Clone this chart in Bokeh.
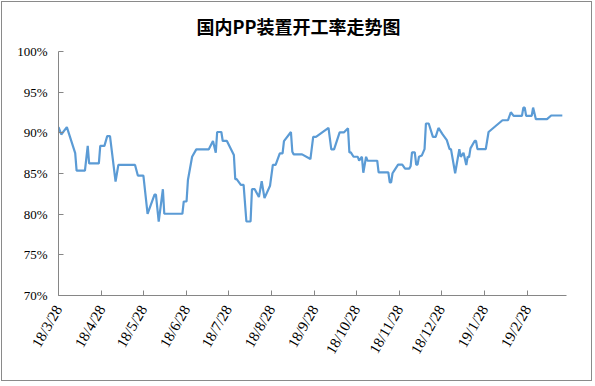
import pandas as pd
from bokeh.plotting import figure
from bokeh.models import ColumnDataSource, FixedTicker, Range1d, PrintfTickFormatter
from bokeh.embed import file_html
from bokeh.resources import INLINE

# ---- data ----
dates = [
    "2018-03-28", "2018-03-30", "2018-04-03", "2018-04-09", "2018-04-10", "2018-04-16",
    "2018-04-18", "2018-04-19", "2018-04-26", "2018-04-27", "2018-04-30", "2018-05-02",
    "2018-05-04", "2018-05-08", "2018-05-10", "2018-05-22", "2018-05-24", "2018-05-28",
    "2018-05-31", "2018-06-05", "2018-06-06", "2018-06-08", "2018-06-11", "2018-06-12",
    "2018-06-25", "2018-06-26", "2018-06-28", "2018-06-29", "2018-07-02", "2018-07-05",
    "2018-07-14", "2018-07-17", "2018-07-19", "2018-07-20", "2018-07-23", "2018-07-24",
    "2018-07-27", "2018-08-01", "2018-08-02", "2018-08-03", "2018-08-06", "2018-08-08",
    "2018-08-10", "2018-08-13", "2018-08-14", "2018-08-16", "2018-08-19", "2018-08-21",
    "2018-08-23", "2018-08-27", "2018-08-29", "2018-08-31", "2018-09-03", "2018-09-05",
    "2018-09-06", "2018-09-11", "2018-09-12", "2018-09-13", "2018-09-19", "2018-09-25",
    "2018-09-27", "2018-09-29", "2018-10-08", "2018-10-10", "2018-10-12", "2018-10-16",
    "2018-10-19", "2018-10-22", "2018-10-23", "2018-10-24", "2018-10-26", "2018-10-29",
    "2018-10-30", "2018-11-01", "2018-11-02", "2018-11-04", "2018-11-05", "2018-11-12",
    "2018-11-13", "2018-11-20", "2018-11-21", "2018-11-22", "2018-11-23", "2018-11-24",
    "2018-11-27", "2018-11-30", "2018-12-02", "2018-12-05", "2018-12-06", "2018-12-07",
    "2018-12-09", "2018-12-10", "2018-12-11", "2018-12-12", "2018-12-14", "2018-12-16",
    "2018-12-17", "2018-12-19", "2018-12-22", "2018-12-24", "2018-12-26", "2018-12-29",
    "2019-01-01", "2019-01-03", "2019-01-04", "2019-01-07", "2019-01-10", "2019-01-11",
    "2019-01-13", "2019-01-15", "2019-01-16", "2019-01-17", "2019-01-18", "2019-01-21",
    "2019-01-22", "2019-01-23", "2019-01-29", "2019-01-31", "2019-02-10", "2019-02-14",
    "2019-02-16", "2019-02-18", "2019-02-24", "2019-02-25", "2019-02-26", "2019-02-27",
    "2019-03-03", "2019-03-04", "2019-03-06", "2019-03-14", "2019-03-17", "2019-03-25",
]
rates = [
    90.7, 89.8, 90.7, 87.5, 85.35, 85.35,
    88.4, 86.25, 86.25, 88.4, 88.4, 89.6,
    89.6, 84.0, 86.05, 86.05, 84.75, 84.75,
    80.05, 82.4, 82.4, 79.07, 83.07, 80.05,
    80.05, 81.56, 81.56, 84.2, 87.06, 87.97,
    87.97, 89.0, 87.55, 90.1, 90.1, 89.0,
    89.0, 87.27, 84.3, 84.3, 83.6, 83.6,
    79.1, 79.1, 83.07, 83.07, 82.1, 84.05,
    81.97, 83.5, 86.05, 86.05, 87.48, 87.48,
    88.98, 90.1, 87.67, 87.35, 87.35, 86.78,
    89.5, 89.5, 90.6, 87.97, 87.97, 90.05,
    90.05, 90.57, 87.6, 87.6, 87.06, 87.06,
    86.57, 87.06, 85.1, 87.06, 86.57, 86.57,
    85.15, 85.15, 83.9, 83.9, 85.03, 85.3,
    86.09, 86.09, 85.6, 85.6, 85.9, 87.6,
    87.6, 86.09, 86.09, 87.06, 87.2, 88.0,
    91.15, 91.15, 89.5, 89.5, 90.6, 89.8,
    89.1, 88.0, 88.0, 85.03, 88.0, 87.06,
    87.55, 86.05, 87.06, 87.0, 88.09, 89.0,
    89.0, 88.0, 88.0, 90.1, 91.55, 91.55,
    92.53, 92.08, 92.08, 93.1, 93.1, 92.08,
    92.08, 93.1, 91.68, 91.68, 92.13, 92.13,
]
tick_dates = [
    "2018-03-28", "2018-04-28", "2018-05-28", "2018-06-28", "2018-07-28", "2018-08-28",
    "2018-09-28", "2018-10-28", "2018-11-28", "2018-12-28", "2019-01-28", "2019-02-28",
]
tick_labels = [
    "18/3/28", "18/4/28", "18/5/28", "18/6/28", "18/7/28", "18/8/28",
    "18/9/28", "18/10/28", "18/11/28", "18/12/28", "19/1/28", "19/2/28",
]
y_ticks = [70, 75, 80, 85, 90, 95, 100]
title_text = "国内PP装置开工率走势图"

# ---- build ----
src = ColumnDataSource(data=dict(date=pd.to_datetime(dates), rate=rates))
tick_ms = [float(pd.Timestamp(d).value // 10**6) for d in tick_dates]

p = figure(
    width=591, height=380,
    x_axis_type="datetime",
    x_range=Range1d(pd.Timestamp("2018-03-28"), pd.Timestamp("2019-03-28")),
    y_range=Range1d(70, 100),
    output_backend="svg", toolbar_location=None,
    min_border_left=56, min_border_right=27, min_border_top=49, min_border_bottom=87,
)
p.styles = {"border": "1px solid #8a8a8a", "margin-left": "1px", "margin-top": "1px"}

p.line("date", "rate", source=src, line_color="#5B9BD5", line_width=2.2)

p.title.text = title_text
p.title.text_font = "Noto Sans CJK SC"
p.title.text_font_size = "18px"
p.title.text_font_style = "bold"
p.title.text_color = "#000000"
p.title.align = "left"
p.title.offset = 138
p.title.vertical_align = "top"
p.title.standoff = 21

p.xgrid.visible = False
p.ygrid.visible = False
p.outline_line_color = None

for ax in (p.xaxis[0], p.yaxis[0]):
    ax.axis_line_color = "#868686"
    ax.axis_line_width = 1
    ax.major_tick_line_color = "#868686"
    ax.major_tick_in = 5
    ax.major_tick_out = 0
    ax.minor_tick_line_color = None
    ax.major_label_text_font = "Liberation Serif"
    ax.major_label_text_color = "#000000"

p.xaxis[0].ticker = FixedTicker(ticks=tick_ms)
p.xaxis[0].major_label_overrides = {ms: lab for ms, lab in zip(tick_ms, tick_labels)}
p.xaxis[0].major_label_orientation = 1.0472
p.xaxis[0].major_label_standoff = 11
p.xaxis[0].major_label_text_font_size = "15px"

p.yaxis[0].ticker = FixedTicker(ticks=y_ticks)
p.yaxis[0].formatter = PrintfTickFormatter(format="%d%%")
p.yaxis[0].major_label_standoff = 11
p.yaxis[0].major_label_text_font_size = "13px"

p.background_fill_color = "white"
p.border_fill_color = "white"

open("out.html", "w").write(file_html(p, INLINE))
